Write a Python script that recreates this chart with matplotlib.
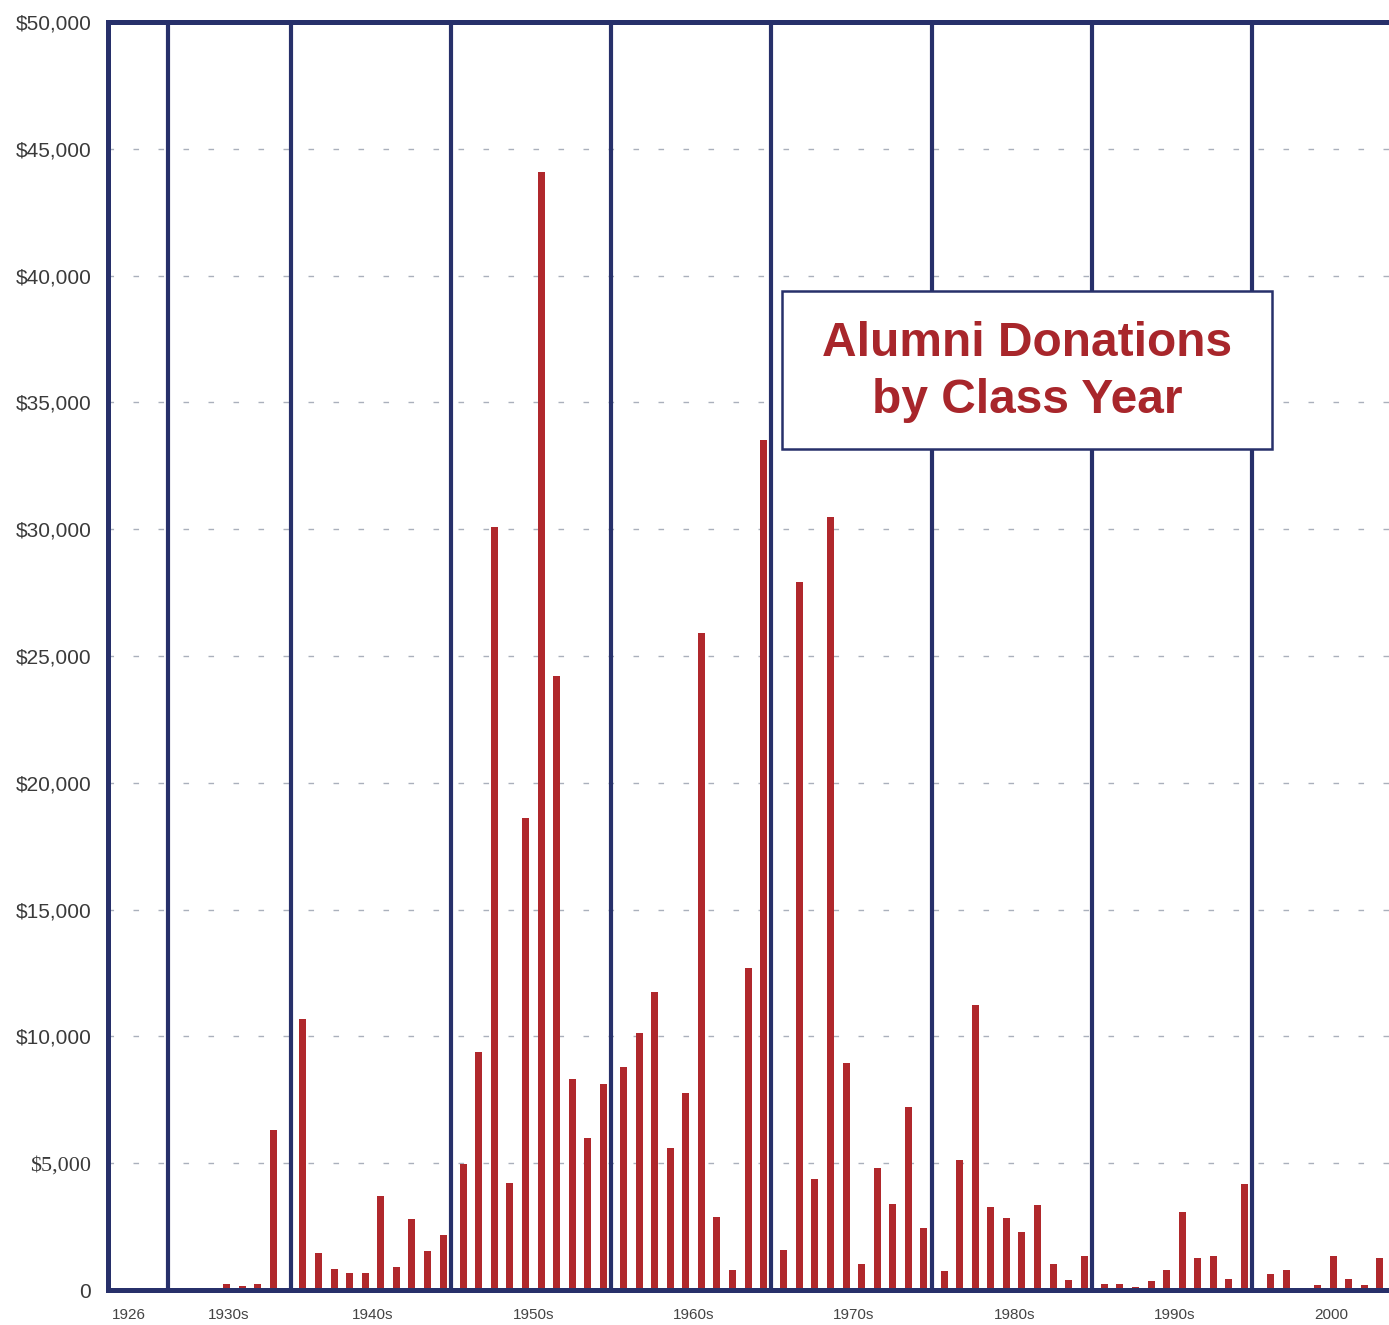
import matplotlib.pyplot as plt
from matplotlib.patches import Rectangle
import numpy as np

# class years and donations
years = ([1936, 1937, 1938, 1939]
         + list(range(1940, 1950)) + list(range(1950, 1960))
         + list(range(1960, 1970)) + list(range(1970, 1980))
         + list(range(1980, 1990)) + list(range(1990, 2000))
         + [2000, 2001, 2002, 2003, 2004, 2005, 2006, 2007])
donations = ([240, 170, 240, 6300]
             + [10700, 1460, 830, 670, 670, 3700, 920, 2790, 1530, 2150]
             + [4980, 9390, 30100, 4220, 18600, 44080, 24200, 8310, 5980, 8110]
             + [8810, 10150, 11750, 5590, 7760, 25900, 2890, 780, 12700, 33500]
             + [1590, 27900, 4390, 30500, 8970, 1030, 4820, 3410, 7220, 2450]
             + [740, 5130, 11240, 3270, 2850, 2290, 3350, 1030, 410, 1360]
             + [230, 250, 130, 370, 790, 3070, 1280, 1350, 430, 4190]
             + [650, 800, 0, 190, 1350, 430, 190, 1250])

xlabels = ['1926', '1930s', '1940s', '1950s', '1960s', '1970s', '1980s', '1990s', '2000']
yvals = list(range(0, 50001, 5000))
ylabels = ['0', '$5,000', '$10,000', '$15,000', '$20,000', '$25,000',
           '$30,000', '$35,000', '$40,000', '$45,000', '$50,000']

navy = '#27306a'
red = '#b0282c'

# small gap between decade blocks
shift = {1930: -0.9, 1940: 0.0, 1950: 0.3, 1960: 0.6, 1970: 0.9,
         1980: 1.2, 1990: 1.5, 2000: 2.2}


def pos(y):
    return y - 1940 + shift[y // 10 * 10]


W, H = 1389, 1325
fig = plt.figure(figsize=(W / 100, H / 100), dpi=100)
ax = fig.add_axes([108 / W, 35 / H, (W - 108) / W, 1268 / H])

xs = [pos(y) for y in years]
ax.bar(xs, donations, width=0.45, color=red, zorder=3)

ax.set_xlim(-12.53, 69.79)
ax.set_ylim(0, 50000)

for v in yvals[1:-1]:
    ax.axhline(v, color='#aab0bc', lw=1, dashes=(4, 14), zorder=1)

seps = [pos(1933) - 0.8] + [pos(d) - 0.8 for d in range(1940, 2001, 10)]
seps[-1] = pos(2000) - 1.2
for s in seps:
    ax.axvline(s, color=navy, lw=3.0, zorder=4)

for side in ['left', 'bottom', 'top']:
    ax.spines[side].set_color(navy)
    ax.spines[side].set_linewidth(3.6)
    ax.spines[side].set_zorder(5)
ax.spines['right'].set_visible(False)

ax.set_yticks(yvals)
ax.set_yticklabels(ylabels, fontsize=15, color='#3a3a3a', family='Liberation Sans')
ax.get_yticklabels()[1].set_family('Liberation Serif')
ax.get_yticklabels()[1].set_fontsize(16)

xt = ([-11.2, (seps[0] + seps[1]) / 2]
      + [pos(d + 4) + 0.5 for d in range(1940, 1991, 10)] + [pos(2004) - 0.1])
ax.set_xticks(xt)
ax.set_xticklabels(xlabels, fontsize=11, color='#444444', family='Liberation Sans')
ax.tick_params(axis='both', length=0)
ax.tick_params(axis='y', pad=12)
ax.tick_params(axis='x', pad=13)

box = Rectangle((782 / W, 1 - 449 / H), 490 / W, 158 / H, transform=fig.transFigure,
                facecolor='white', edgecolor=navy, lw=1.8, zorder=10, clip_on=False)
ax.add_patch(box)
ax.text(1027 / W, 1 - 372 / H, 'Alumni Donations\nby Class Year', transform=fig.transFigure,
        ha='center', va='center', fontsize=34.5, fontweight='bold', color='#a8262b',
        family='Liberation Sans', linespacing=1.33, zorder=11)

fig.savefig('out.png', dpi=100, facecolor='white')
